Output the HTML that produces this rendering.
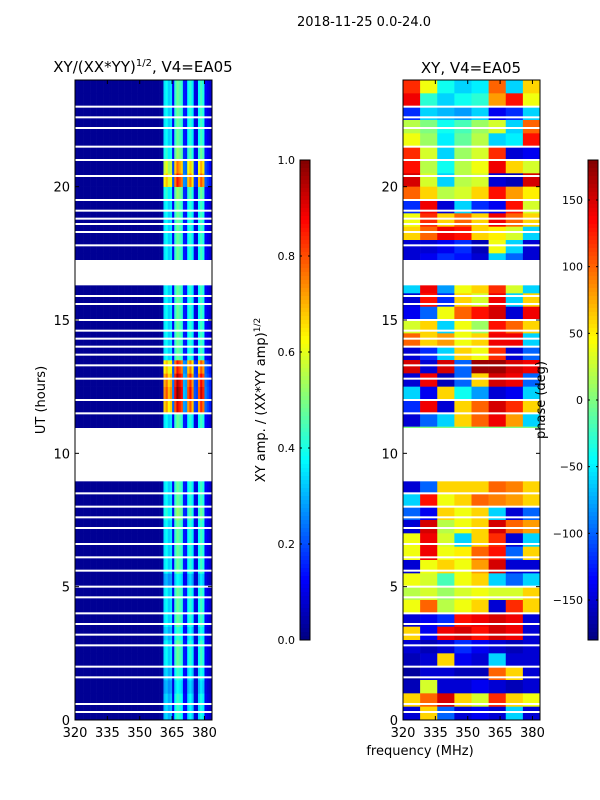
<!DOCTYPE html>
<html><head><meta charset="utf-8"><style>
body{margin:0;background:#fff}
svg{display:block;font-family:"DejaVu Sans","Liberation Sans",sans-serif}
</style></head><body>
<svg id="fig" width="600" height="800" viewBox="0 0 600 800">
<text x="364" y="26" font-size="13" text-anchor="middle">2018-11-25 0.0-24.0</text>
<text x="143" y="72" font-size="15" text-anchor="middle">XY/(XX*YY)<tspan font-size="10" dy="-6">1/2</tspan><tspan dy="6">, V4=EA05</tspan></text>
<text x="471" y="73" font-size="15" text-anchor="middle">XY, V4=EA05</text>
<g id="leftg"></g>
<g id="rightg"></g>
<g id="cb1"></g>
<g id="cb2"></g>
<g id="axes"></g>
<text transform="translate(45,400) rotate(-90)" font-size="13" text-anchor="middle">UT (hours)</text>
<text transform="translate(265,400) rotate(-90)" font-size="13" text-anchor="middle">XY amp. / (XX*YY amp)<tspan font-size="9" dy="-5">1/2</tspan></text>
<text transform="translate(545,400) rotate(-90)" font-size="13" text-anchor="middle">phase (deg)</text>
<text x="420" y="755" font-size="13" text-anchor="middle">frequency (MHz)</text>
</svg>
<script>
const xTicks=[320,335,350,365,380];
const yTicks=[0,5,10,15,20];
const ampTicks=[0.0,0.2,0.4,0.6,0.8,1.0];
const phaseTicks=[-150,-100,-50,0,50,100,150];
const gaps=[[16.3,17.25],[8.95,10.95]];
const thinGaps=[23.0,22.6,22.2,21.5,21.0,20.4,19.5,19.1,18.8,18.6,18.3,17.8,15.9,15.6,15.0,14.6,14.3,14.0,13.7,13.3,12.8,12.0,11.5,8.5,8.0,7.6,7.2,6.6,6.1,5.6,5.0,4.6,4.0,3.6,3.2,2.8,2.0,1.6,0.6,0.3];
const chanAmp=[0.02,0.02,0.02,0.02,0.02,0.02,0.02,0.02,0.02,0.02,0.02,0.02,0.02,0.02,0.02,0.02,0.02,0.02,0.02,0.02,0.02,0.02,0.02,0.02,0.02,0.02,0.02,0.02,0.02,0.02,0.02,0.02,0.02,0.02,0.02,0.02,0.02,0.02,0.02,0.02,0.03,0.35,0.38,0.33,0.35,0.12,0.42,0.48,0.45,0.42,0.15,0.14,0.38,0.42,0.36,0.1,0.09,0.38,0.44,0.4,0.12,0.1,0.08,0.06];
const rowGain=[0.9,0.9,0.8,0.9,1,1,0.9,1,1,1,0.8,1,1,1,1,1.1,1,1,1,1,1,1,1,1.9,2.1,2.0,1.8,1,1,1,1,1,1,1,1,1,1,1,1,1.1,1.8,1.6,1.1,1,1,1,1,1];
const phaseRows=[
[120,40,-40,-60,-50,100,-60,60],[140,-30,-60,-40,-30,80,130,40],[-120,-60,-70,-80,-60,-140,-120,-60],[20,0,-40,-20,10,30,-60,100],
[40,10,-50,-10,20,-60,-50,130],[120,30,-60,10,30,120,-150,-140],[130,20,-40,20,40,140,60,30],[150,30,-60,20,30,-150,-160,150],
[100,60,20,30,60,130,80,50],[-120,140,-150,-60,-120,-140,130,30],[40,120,60,100,60,140,100,60],[60,100,140,130,60,50,30,-60],
[-150,-150,-140,-120,-160,40,-60,-150],[-150,-140,-120,-130,-150,-60,-100,-150],[-60,140,-80,40,60,120,30,-60],[-60,140,-80,40,60,120,30,-60],
[-150,130,-120,60,30,140,-60,60],[-140,-100,40,100,130,150,-150,140],[30,60,-60,40,10,130,100,60],[100,60,80,40,60,140,140,-60],
[-150,-120,-60,60,40,120,-150,-100],[150,-150,150,-100,170,170,150,140],[-150,140,-160,-100,60,150,140,-100],[-60,-140,60,-40,-80,-150,-140,-60],
[-120,140,-150,60,100,150,120,60],[-150,-100,-60,60,100,140,80,-60],[0,0,0,0,0,0,0,0],[0,0,0,0,0,0,0,0],
[0,0,0,0,0,0,0,0],[0,0,0,0,0,0,0,0],[-150,-100,60,60,60,100,90,60],[-60,130,40,60,100,90,80,60],
[-100,-140,60,40,60,-60,-150,-100],[-150,150,20,40,60,150,100,80],[40,140,30,-60,60,120,-150,-60],[40,140,40,50,100,130,-100,60],
[-150,40,60,40,80,150,-150,-150],[40,30,-20,40,60,-60,-100,-60],[20,30,10,30,40,30,30,60],[40,100,20,40,60,-150,120,60],
[-150,-140,-120,130,140,150,140,-150],[60,-140,140,150,130,150,140,-150],[-150,-160,-150,-120,-140,-150,-160,-150],[-160,-150,60,-140,-150,-60,-150,-150],
[-170,-150,-150,-160,-160,100,60,-150],[-160,30,-150,-150,-140,-150,-160,-150],[60,100,150,60,30,120,60,40],[-150,60,-100,-150,-140,-150,-60,-150]];

const NS='http://www.w3.org/2000/svg';
const TOPY=80,BOTY=720,L1=75,L2=403,W=137;
const fmin=320,fmax=383.5;
function yS(h){return BOTY-(h/24)*(BOTY-TOPY);}
function xS(f,x0){return x0+(f-fmin)/(fmax-fmin)*W;}
function jet(v){v=Math.max(0,Math.min(1,v));
 const r=Math.min(4*v-1.5,-4*v+4.5),g=Math.min(4*v-0.5,-4*v+3.5),b=Math.min(4*v+0.5,-4*v+2.5);
 const c=x=>Math.round(255*Math.max(0,Math.min(1,x)));return `rgb(${c(r)},${c(g)},${c(b)})`;}
function rect(p,x,y,w,h,f){const r=document.createElementNS(NS,'rect');r.setAttribute('x',x);r.setAttribute('y',y);r.setAttribute('width',w);r.setAttribute('height',h);r.setAttribute('fill',f);p.appendChild(r);return r;}
function line(p,x1,y1,x2,y2){const l=document.createElementNS(NS,'line');l.setAttribute('x1',x1);l.setAttribute('y1',y1);l.setAttribute('x2',x2);l.setAttribute('y2',y2);l.setAttribute('stroke','#000');l.setAttribute('stroke-width',1);p.appendChild(l);return l;}
function txt(p,x,y,s,anchor){const t=document.createElementNS(NS,'text');t.setAttribute('x',x);t.setAttribute('y',y);t.setAttribute('font-size','13');t.setAttribute('text-anchor',anchor);t.textContent=s;p.appendChild(t);return t;}

const leftG=document.getElementById('leftg'),rightG=document.getElementById('rightg');
for(let r=0;r<rowGain.length;r++){
 for(let c=0;c<chanAmp.length;c++){
  const v=Math.min(1,chanAmp[c]*(c>40?rowGain[r]:1));
  const x=xS(fmin+c,L1),x2=Math.min(xS(fmin+c+1,L1),L1+W);
  const el=rect(leftG,x,yS((r+1)/2),x2-x+0.3,yS(r/2)-yS((r+1)/2)+0.3,jet(v));
  
  
 }}
const fb=(fmax-fmin)/8;
for(let r=0;r<phaseRows.length;r++){
 const h0=23.5-r*0.5;
 for(let c=0;c<8;c++){
  const v=(phaseRows[r][c]+180)/360;
  const x=xS(fmin+c*fb,L2),x2=xS(fmin+(c+1)*fb,L2);
  const el=rect(rightG,x,yS(h0+0.5),x2-x+0.3,yS(h0)-yS(h0+0.5)+0.3,jet(v));
  
  
 }}
for(const g of [leftG,rightG]){
 const x0=g===leftG?L1:L2;
 for(const gp of gaps){const el=rect(g,x0,yS(gp[1]),W,yS(gp[0])-yS(gp[1]),'#fff');
  
  }
 for(const t of thinGaps){const el=rect(g,x0,yS(t)-1,W,2,'#fff');
  
  }
}
const ax=document.getElementById('axes');
for(const x0 of [L1,L2]){
 const fr=rect(ax,x0,TOPY,W,BOTY-TOPY,'none');fr.setAttribute('stroke','#000');
 
 
 for(const t of xTicks){const x=xS(t,x0);line(ax,x,BOTY,x,BOTY-4);line(ax,x,TOPY,x,TOPY+4);
  const tl=txt(ax,x,737,String(t),'middle');
  
  }
 for(const t of yTicks){const y=yS(t);line(ax,x0,y,x0+4,y);line(ax,x0+W,y,x0+W-4,y);
  const tl=txt(ax,x0-5,y+5,String(t),'end');
  
  }
}
function cbar(id,x0,ticks,vmin,vmax,fmt){
 const g=document.getElementById(id);const ct=160,cb=640,N=120;
 for(let i=0;i<N;i++){rect(g,x0,ct+(cb-ct)*i/N,10,(cb-ct)/N+0.5,jet(1-(i+0.5)/N));}
 const fr=rect(g,x0,ct,10,cb-ct,'none');fr.setAttribute('stroke','#000');
 for(const t of ticks){const y=cb-(t-vmin)/(vmax-vmin)*(cb-ct);line(g,x0,y,x0+2,y);line(g,x0+10,y,x0+8,y);
  const tl=txt(g,x0-5,y+4,fmt(t),'end');tl.setAttribute('font-size','11');
  
  }
}
cbar('cb1',300,ampTicks,0,1,t=>t.toFixed(1));
cbar('cb2',588,phaseTicks,-180,180,t=>t<0?'\u2212'+(-t):String(t));
</script>
</body></html>
